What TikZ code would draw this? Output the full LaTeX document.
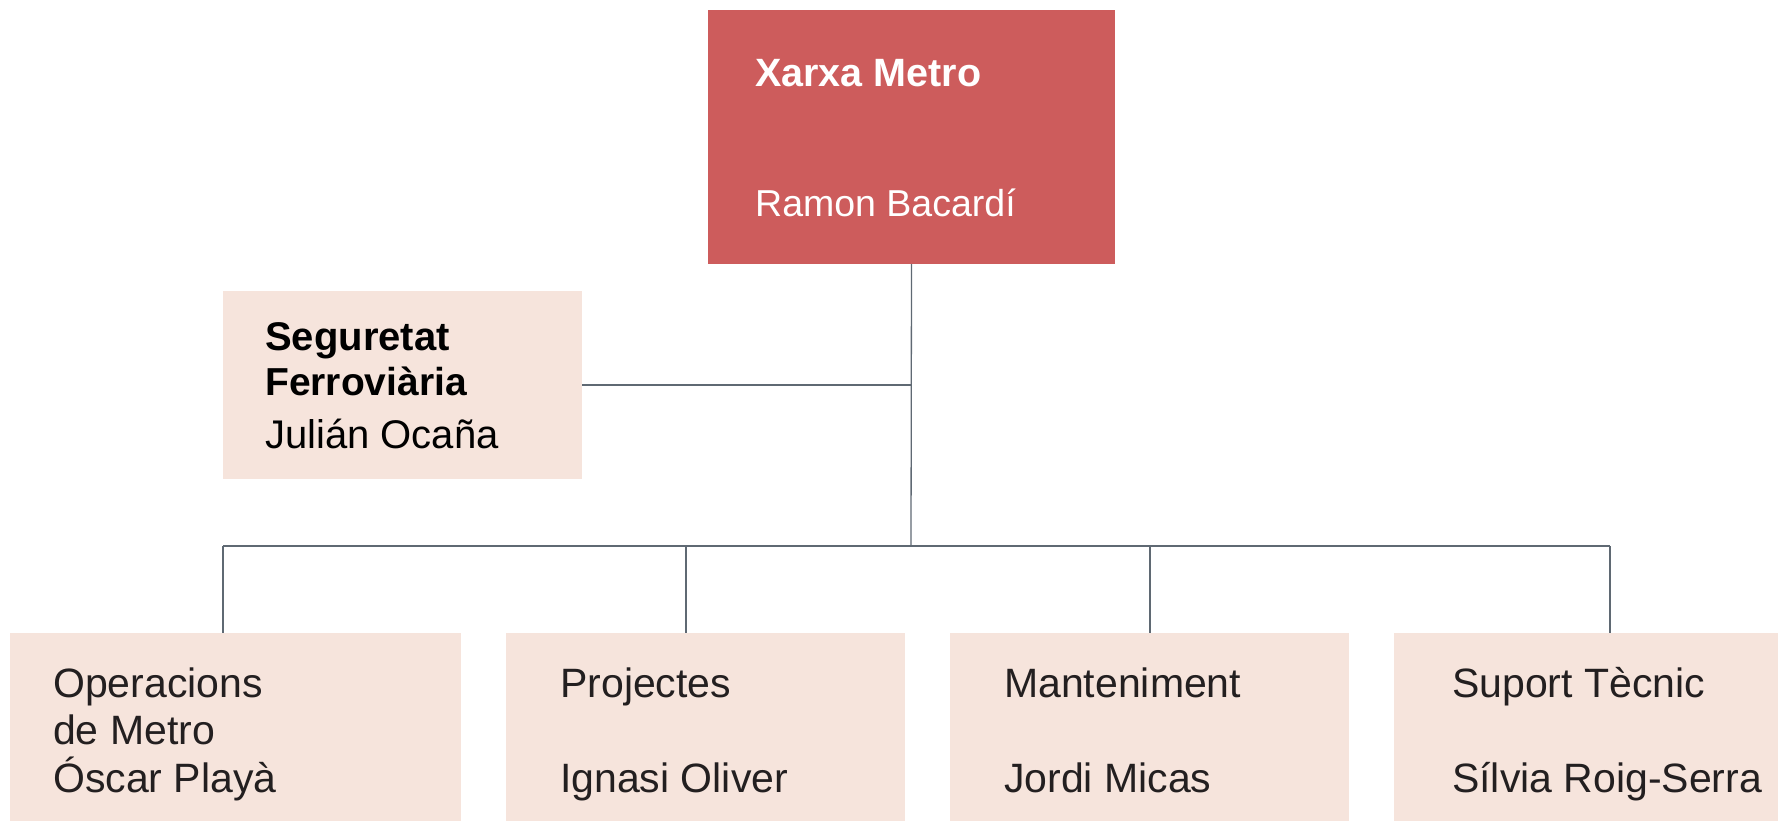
\documentclass[tikz,border=0pt]{standalone}
\usepackage{fontspec}
\setmainfont{Liberation Sans}
\usetikzlibrary{positioning}

\begin{document}
\begin{tikzpicture}[x=1pt, y=-1pt,
        caixa/.style={inner sep=0, outer sep=0, anchor=north west},
        linia/.style={draw=gris linia, line width=1.3pt},
        rotul/.style={inner sep=0, anchor=base west, text=gris text}]
        \definecolor{vermell metro}{RGB}{205,92,92}
        \definecolor{rosa clar}{RGB}{246,228,220}
        \definecolor{gris linia}{RGB}{95,105,115}
        \definecolor{gris text}{RGB}{35,31,32}
        \def\alt{189}

        \useasboundingbox (0,0) rectangle (1778,821);

        % caixes
        \node[caixa, fill=vermell metro, minimum width=407, minimum height=254] (xarxa) at (708,10) {};
        \node[caixa, fill=rosa clar, minimum width=359, minimum height=188] (seg) at (223,291) {};
        \node[caixa, fill=rosa clar, minimum width=451, minimum height=\alt] (ops) at (10,633) {};
        \node[caixa, fill=rosa clar, minimum width=399, minimum height=\alt] (proj) at (506,633) {};
        \node[caixa, fill=rosa clar, minimum width=399, minimum height=\alt] (mant) at (950,633) {};
        \node[caixa, fill=rosa clar, minimum width=384, minimum height=\alt] (sup) at (1394,633) {};

        % textos
        \node[rotul, text=white, font=\fontsize{39.5}{46}\selectfont\bfseries] (t1) at (755,87) {Xarxa Metro};
        \node[rotul, text=white, font=\fontsize{37.5}{44}\selectfont] (t2) at (755,217) {Ramon Bacardí};
        \node[rotul, text=black, font=\fontsize{40}{46}\selectfont\bfseries] (t3) at (265,350) {Seguretat};
        \node[rotul, text=black, font=\fontsize{39}{46}\selectfont\bfseries] (t4) at (265,395) {Ferroviària};
        \node[rotul, text=black, font=\fontsize{40}{46}\selectfont] (t5) at (265,448) {Julián Ocaña};
        \node[rotul, font=\fontsize{41}{47}\selectfont] (t6) at (53,697) {Operacions};
        \node[rotul, font=\fontsize{41}{47}\selectfont] (t7) at (53,744) {de Metro};
        \node[rotul, font=\fontsize{41}{47}\selectfont] (t8) at (53,792) {Óscar Playà};
        \node[rotul, font=\fontsize{41}{47}\selectfont] (t9) at (560,697) {Projectes};
        \node[rotul, font=\fontsize{41}{47}\selectfont] (t10) at (560,792) {Ignasi Oliver};
        \node[rotul, font=\fontsize{41}{47}\selectfont] (t11) at (1004,697) {Manteniment};
        \node[rotul, font=\fontsize{41}{47}\selectfont] (t12) at (1004,792) {Jordi Micas};
        \node[rotul, font=\fontsize{41}{47}\selectfont] (t13) at (1452,697) {Suport Tècnic};
        \node[rotul, font=\fontsize{41}{47}\selectfont] (t14) at (1452,792) {Sílvia Roig-Serra};

        % linies
        \coordinate (bus) at (911,546);
        \coordinate (d1) at (223,546);
        \coordinate (d2) at (686,546);
        \coordinate (d3) at (1150,546);
        \coordinate (d4) at (1610,546);
        \draw[linia] (xarxa.south) -- (bus);
        \draw[linia] (seg.east) -- (seg.east -| xarxa.south);
        \draw[linia] (d1) -- (d4);
        \draw[linia] (d1) -- (d1 |- ops.north);
        \draw[linia] (d2) -- (d2 |- proj.north);
        \draw[linia] (d3) -- (d3 |- mant.north);
        \draw[linia] (d4) -- (d4 |- sup.north);
    \end{tikzpicture}
\end{document}
